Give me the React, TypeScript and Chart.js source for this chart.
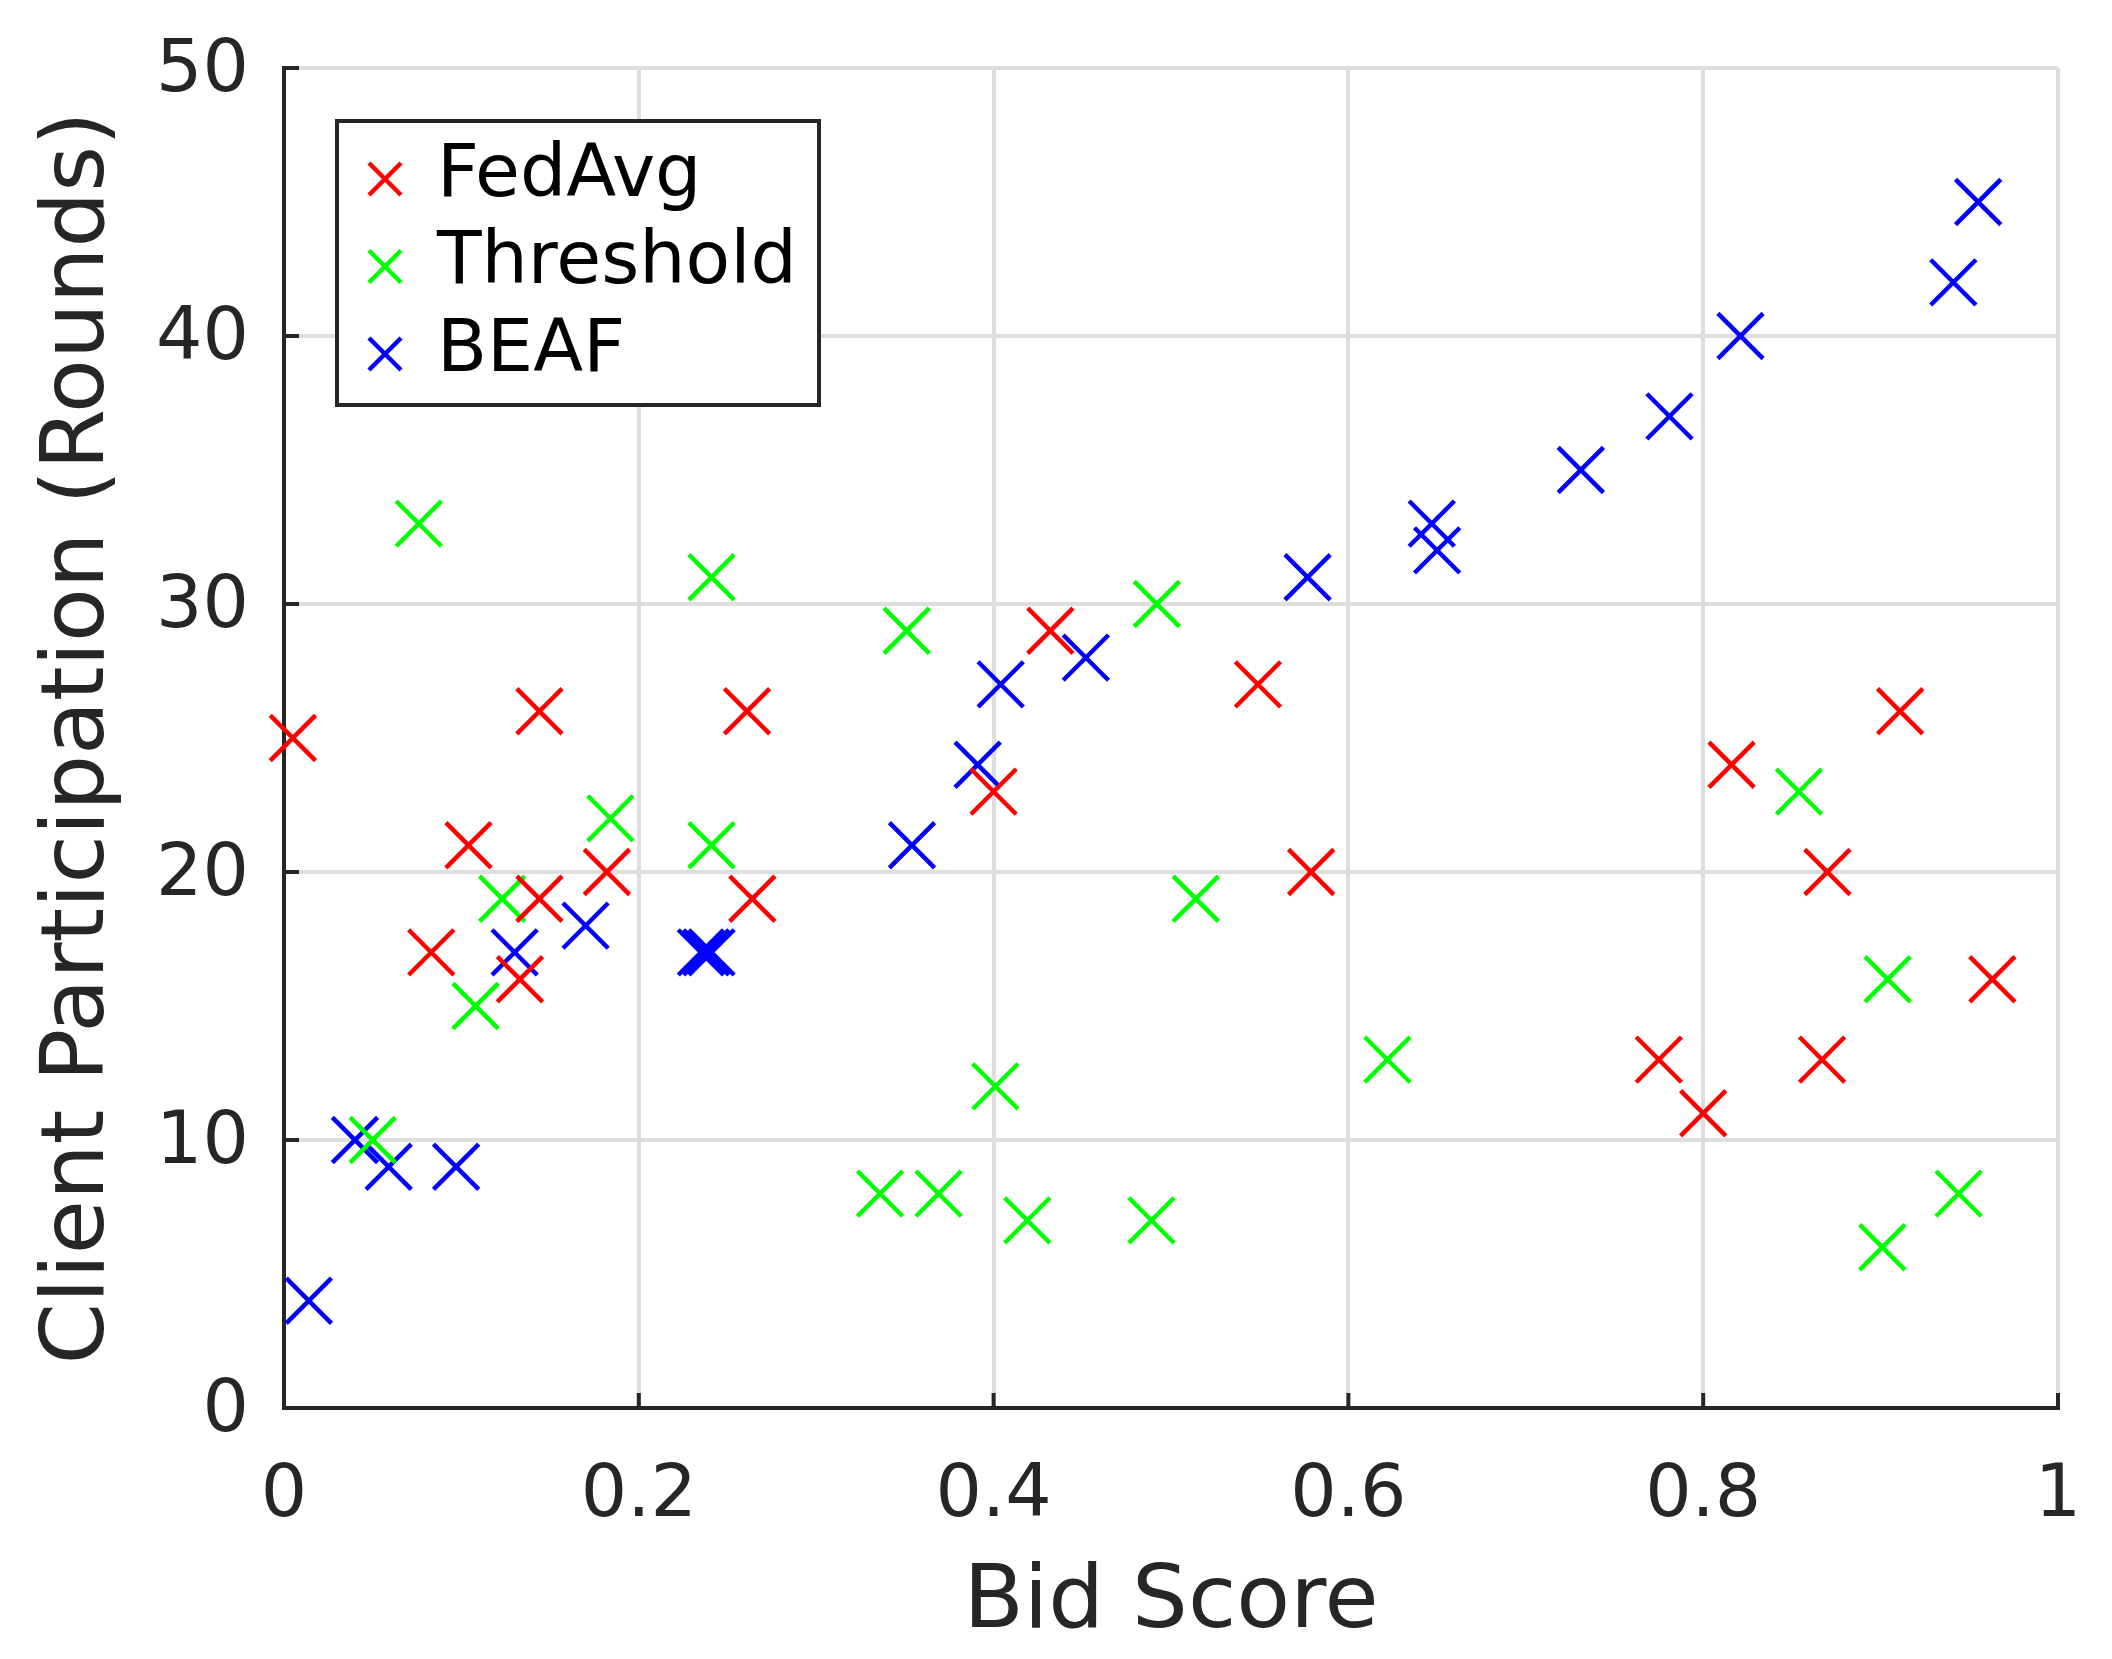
import { useEffect, useRef } from "react";
import { Chart, registerables } from "chart.js";

Chart.register(...registerables);

// data
const seriesNames = ["FedAvg", "Threshold", "BEAF"];
const seriesColors = ["#ff0000", "#00ff00", "#0000ff"];

const fedAvgBid = [0.005, 0.144, 0.261, 0.104, 0.083, 0.133, 0.144, 0.182, 0.264, 0.432, 0.4, 0.549, 0.579, 0.816, 0.911, 0.87, 0.963, 0.775, 0.867, 0.8];
const fedAvgRounds = [25, 26, 26, 21, 17, 16, 19, 20, 19, 29, 23, 27, 20, 24, 26, 20, 16, 13, 13, 11];

const thresholdBid = [0.076, 0.241, 0.351, 0.492, 0.184, 0.241, 0.123, 0.108, 0.05, 0.514, 0.854, 0.904, 0.622, 0.401, 0.336, 0.369, 0.419, 0.489, 0.944, 0.901];
const thresholdRounds = [33, 31, 29, 30, 22, 21, 19, 15, 10, 19, 23, 16, 13, 12, 8, 8, 7, 7, 8, 6];

const beafBid = [0.014, 0.04, 0.059, 0.097, 0.13, 0.17, 0.235, 0.238, 0.241, 0.354, 0.391, 0.404, 0.452, 0.577, 0.647, 0.65, 0.731, 0.781, 0.821, 0.941, 0.955];
const beafRounds = [4, 10, 9, 9, 17, 18, 17, 17, 17, 21, 24, 27, 28, 31, 33, 32, 35, 37, 40, 42, 45];

const xTicks = [0, 0.2, 0.4, 0.6, 0.8, 1];
const xTickLabels = ["0", "0.2", "0.4", "0.6", "0.8", "1"];
const yTicks = [0, 10, 20, 30, 40, 50];
const yTickLabels = ["0", "10", "20", "30", "40", "50"];

const xTitle = "Bid Score";
const yTitle = "Client Participation (Rounds)";

const FONT = "'DejaVu Sans', sans-serif";
const AXIS = "#262626";
const GRID = "#dedede";

const toPoints = (xs: number[], ys: number[]) => xs.map((x, i) => ({ x, y: ys[i] }));

// keep label overflow from pushing the plot area in
const noScalePadding = (scale: any) => {
  scale.paddingTop = 0;
  scale.paddingBottom = 0;
  scale.paddingLeft = 0;
  scale.paddingRight = 0;
};

// MATLAB style ticks pointing into the plot
const inwardTicks = {
  id: "inwardTicks",
  beforeDatasetsDraw(chart: any) {
    const { ctx, chartArea, scales } = chart;
    ctx.save();
    ctx.strokeStyle = AXIS;
    ctx.lineWidth = 4;
    ctx.beginPath();
    xTicks.forEach((v) => {
      const px = scales.x.getPixelForValue(v);
      ctx.moveTo(px, chartArea.bottom);
      ctx.lineTo(px, chartArea.bottom - 15);
    });
    yTicks.forEach((v) => {
      const py = scales.y.getPixelForValue(v);
      ctx.moveTo(chartArea.left, py);
      ctx.lineTo(chartArea.left + 15, py);
    });
    ctx.stroke();
    ctx.restore();
  },
};

// boxed legend in the upper left corner
const boxLegend = {
  id: "boxLegend",
  afterDraw(chart: any) {
    const { ctx, chartArea } = chart;
    const x0 = chartArea.left + 53;
    const y0 = chartArea.top + 53;
    const w = 482;
    const h = 284;
    ctx.save();
    ctx.fillStyle = "#ffffff";
    ctx.fillRect(x0, y0, w, h);
    ctx.strokeStyle = AXIS;
    ctx.lineWidth = 4;
    ctx.strokeRect(x0, y0, w, h);

    chart.data.datasets.forEach((ds: any, i: number) => {
      const rowY = y0 + 56 + i * 87.5;
      const mx = x0 + 48;
      const my = rowY + 2;
      const r = 16;
      ctx.strokeStyle = ds.borderColor;
      ctx.lineWidth = 4.5;
      ctx.beginPath();
      ctx.moveTo(mx - r, my - r);
      ctx.lineTo(mx + r, my + r);
      ctx.moveTo(mx - r, my + r);
      ctx.lineTo(mx + r, my - r);
      ctx.stroke();

      ctx.fillStyle = "#000000";
      ctx.font = `73px ${FONT}`;
      ctx.textAlign = "left";
      ctx.textBaseline = "middle";
      ctx.fillText(ds.label, x0 + 100, rowY);
    });
    ctx.restore();
  },
};

const App = () => {
  const chartRef = useRef<HTMLCanvasElement | null>(null);

  useEffect(() => {
    if (!chartRef.current) return;
    const ctx = chartRef.current.getContext("2d");
    if (!ctx) return;

    const series = [
      toPoints(fedAvgBid, fedAvgRounds),
      toPoints(thresholdBid, thresholdRounds),
      toPoints(beafBid, beafRounds),
    ];

    const chartInstance = new Chart(ctx, {
      type: "scatter",
      data: {
        datasets: series.map((data, i) => ({
          label: seriesNames[i],
          data,
          pointStyle: "crossRot",
          pointRadius: 32,
          pointHoverRadius: 32,
          borderColor: seriesColors[i],
          backgroundColor: seriesColors[i],
          pointBorderWidth: 4.5,
          borderWidth: 4.5,
          clip: false,
        })),
      },
      options: {
        animation: false,
        responsive: false,
        devicePixelRatio: 1,
        events: [],
        layout: { padding: { top: 68, right: 54, left: 0, bottom: 0 } },
        plugins: {
          legend: { display: false },
          tooltip: { enabled: false },
        },
        scales: {
          x: {
            type: "linear",
            position: "bottom",
            min: 0,
            max: 1,
            afterBuildTicks: (scale: any) => {
              scale.ticks = xTicks.map((v) => ({ value: v }));
            },
            afterFit: (scale: any) => {
              scale.height = 251;
              noScalePadding(scale);
            },
            grid: { color: GRID, lineWidth: 4, drawTicks: false },
            border: { display: true, color: AXIS, width: 4 },
            ticks: {
              padding: 45,
              color: AXIS,
              font: { family: FONT, size: 73 },
              maxRotation: 0,
              callback: (_v: any, i: number) => xTickLabels[i],
            },
            title: {
              display: true,
              text: xTitle,
              color: AXIS,
              font: { family: FONT, size: 88 },
              padding: { top: 0, bottom: 2 },
            },
          },
          y: {
            type: "linear",
            position: "left",
            min: 0,
            max: 50,
            afterBuildTicks: (scale: any) => {
              scale.ticks = yTicks.map((v) => ({ value: v }));
            },
            afterFit: (scale: any) => {
              scale.width = 284;
              noScalePadding(scale);
            },
            grid: { color: GRID, lineWidth: 4, drawTicks: false },
            border: { display: true, color: AXIS, width: 4 },
            ticks: {
              padding: 35,
              labelOffset: 4,
              color: AXIS,
              font: { family: FONT, size: 73 },
              callback: (_v: any, i: number) => yTickLabels[i],
            },
            title: {
              display: true,
              text: yTitle,
              color: AXIS,
              font: { family: FONT, size: 88 },
              padding: { top: 27, bottom: 0 },
            },
          },
        },
      },
      plugins: [inwardTicks, boxLegend],
    });

    return () => {
      chartInstance.destroy();
    };
  }, []);

  return (
    <div style={{ position: "absolute", left: 0, top: 0, width: 2112, height: 1659, background: "#fff" }}>
      <canvas ref={chartRef} width={2112} height={1659} style={{ width: 2112, height: 1659 }} />
    </div>
  );
};

export default App;
